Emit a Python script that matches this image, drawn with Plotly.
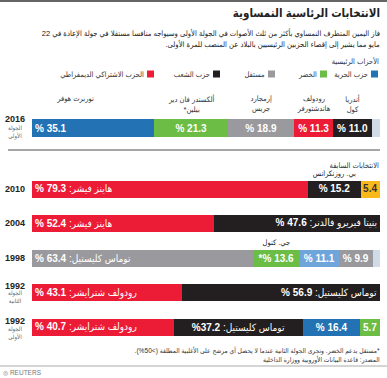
import json
import plotly.graph_objects as go

W, H = 387, 378

# ---------------- data ----------------
rows_2016 = ["2016"]
vals_2016 = [35.1, 21.3, 18.9, 11.3, 11.0, 2.4]
cols_2016 = ["#2272b4", "#6cbd45", "#9a9a9e", "#ec1c36", "#231f20", "#cfdbe6"]
labs_2016 = ["35.1 %", "21.3 %", "18.9 %", "11.3 %", "11.0 %", ""]
algn_2016 = ["start", "mid", "mid", "mid", "mid", "mid"]
names_2016 = ["نوربرت هوفر", "ألكسندر فان دير<br>بيلين*", "إرمجارد<br>جريس",
              "رودولف<br>هاندشتورفر", "أندريا<br>كول", ""]

rows_prev = ["2010", "2004", "1998", "1992b", "1992a"]
year_text = {"2016": "2016", "2010": "2010", "2004": "2004", "1998": "1998",
             "1992b": "1992", "1992a": "1992"}
round_text = {"2016": "الجولة<br>الأولى", "1992b": "الجولة<br>الثانية", "1992a": "الجولة<br>الأولى"}

vals_prev = {
    "2010": [79.3, 15.2, 5.4],
    "2004": [52.4, 47.6],
    "1998": [63.4, 13.6, 11.1, 9.9, 2.0],
    "1992b": [43.1, 56.9],
    "1992a": [40.7, 37.2, 16.4, 5.7],
}
cols_prev = {
    "2010": ["#ec1c36", "#231f20", "#f9b91c"],
    "2004": ["#ec1c36", "#231f20"],
    "1998": ["#9a9a9e", "#6cbd45", "#6ea6dc", "#9a9a9e", "#cfdbe6"],
    "1992b": ["#ec1c36", "#231f20"],
    "1992a": ["#ec1c36", "#231f20", "#2272b4", "#6cbd45"],
}
labs_prev = {
    "2010": ["هاينز فيشر: <b>79.3 %</b>", "15.2 %", "5.4"],
    "2004": ["هاينز فيشر: <b>52.4 %</b>", "بنيتا فيريرو فالدنر: <b>47.6 %</b>"],
    "1998": ["توماس كليستيل: <b>63.4 %</b>", "13.6 %*", "11.1 %", "9.9 %", ""],
    "1992b": ["رودولف شترايشر: <b>43.1 %</b>", "توماس كليستيل: <b>56.9 %</b>"],
    "1992a": ["رودولف شترايشر: <b>40.7 %</b>", "توماس كليستيل: <b>37.2%</b>", "16.4 %", "5.7"],
}
algn_prev = {
    "2010": ["start", "mid", "mid"],
    "2004": ["start", "end"],
    "1998": ["start", "mid", "mid", "mid", "mid"],
    "1992b": ["start", "end"],
    "1992a": ["start", "mid", "mid", "mid"],
}
tcol_prev = {"2010": ["white", "white", "#333"]}
above_names = {"2010": (1, "بي. روزنكرانس"), "1998": (1, "جي. كنول")}

legend_names = ["حزب الحرية", "الخضر", "مستقل", "حزب الشعب", "الحزب الاشتراكي الديمقراطي"]
legend_cols = ["#2272b4", "#6cbd45", "#9a9a9e", "#231f20", "#ec1c36"]

title = "الانتخابات الرئاسية النمساوية"
subtitle1 = "فاز اليمين المتطرف النمساوي بأكثر من ثلث الأصوات في الجولة الأولى وسيواجه منافسا مستقلا في جولة الإعادة في 22"
subtitle2 = "مايو مما يشير إلى إقصاء الحزبين الرئيسيين بالبلاد عن المنصب للمرة الأولى."
legend_title = "الأحزاب الرئيسية"
prev_title = "الانتخابات السابقة"
foot1 = "*مستقل بدعم الخضر. وتجرى الجولة الثانية عندما لا يحصل أي مرشح على الأغلبية المطلقة (>50%)."
foot2 = "المصدر: قاعدة البيانات الأوروبية ووزارة الداخلية"

# ---------------- styling helpers ----------------
FONT = "Arial, 'Liberation Sans', 'DejaVu Sans Condensed', 'DejaVu Sans', sans-serif"
year_shift = {"2016": (9, 5), "1992b": (7, 4.5), "1992a": (6, 3.5)}
PLOT_L, PLOT_R = 32, 380          # pixel extent of the bar axes


def py(p):
    return 1 - p / H


def px(p):
    return p / W


def xpix(v):
    return PLOT_L + (PLOT_R - PLOT_L) * v / 100.0


fig = go.Figure()
annotations = []
targets = []      # horizontal alignment fix-ups (anchor mode, pixel) per annotation
shapes = []


def add_ann(target, **kw):
    annotations.append(kw)
    targets.append(target)


# 2016 bars
for v, c in zip(vals_2016, cols_2016):
    fig.add_trace(go.Bar(x=[v], y=rows_2016, orientation="h", marker_color=c,
                         marker_line_width=0, width=1, xaxis="x", yaxis="y",
                         showlegend=False, hoverinfo="skip"))


def seg_labels(yi, vals, labs, algn, tcols, xref, yref):
    start = 0.0
    for i, v in enumerate(vals):
        lab = labs[i]
        if lab:
            a = algn[i]
            if a == "start":
                x, xa, xs, mode = start, "left", 3, "left"
            elif a == "end":
                x, xa, xs, mode = start + v, "right", -3, "right"
            else:
                x, xa, xs, mode = start + v / 2, "center", 0, "center"
            txt = lab if "<b>" in lab else "<b>" + lab + "</b>"
            add_ann([mode, xpix(x) + xs], x=x, y=yi, xref=xref, yref=yref, text=txt,
                    showarrow=False, xanchor=xa, xshift=xs,
                    font=dict(family=FONT, size=10, color=tcols[i]))
        start += v


seg_labels(0, vals_2016, labs_2016, algn_2016, ["white"] * 6, "x", "y")

# names above 2016 segments
start = 0.0
for i, v in enumerate(vals_2016):
    if names_2016[i]:
        xs = -18 if i == 0 else 0
        add_ann(["center", xpix(start + v / 2) + xs], x=start + v / 2, y=py(92), xref="x",
                yref="paper", text=names_2016[i], showarrow=False,
                xanchor="center", yanchor="top", xshift=xs,
                font=dict(family=FONT, size=7.5, color="#333"))
    start += v

# previous elections
for yi, row in enumerate(rows_prev):
    vals = vals_prev[row]
    for v, c in zip(vals, cols_prev[row]):
        fig.add_trace(go.Bar(x=[v], y=[row], orientation="h", marker_color=c,
                             marker_line_width=0, width=0.5, xaxis="x2", yaxis="y2",
                             showlegend=False, hoverinfo="skip"))
    seg_labels(yi, vals, labs_prev[row], algn_prev[row],
               tcol_prev.get(row, ["white"] * len(vals)), "x2", "y2")
    if row in above_names:
        k, nm = above_names[row]
        x = sum(vals[:k]) + vals[k] / 2
        add_ann(["center", xpix(x)], x=x, y=yi, xref="x2", yref="y2", text=nm,
                showarrow=False, xanchor="center", yanchor="bottom",
                yshift=9, font=dict(family=FONT, size=7.5, color="#222"))

# year labels
for row, yi, yref in [("2016", 0, "y")] + [(r, i, "y2") for i, r in enumerate(rows_prev)]:
    yr = year_text[row]
    if row in round_text:
        ys, rs = year_shift[row]
        add_ann(["center", 15], x=px(15), y=yi, xref="paper", yref=yref, text="<b>" + yr + "</b>",
                showarrow=False, xanchor="center", yshift=ys,
                font=dict(family=FONT, size=9, color="#222"))
        add_ann(["center", 15], x=px(15), y=yi, xref="paper", yref=yref, text=round_text[row],
                showarrow=False, xanchor="center", yanchor="top", yshift=rs,
                font=dict(family=FONT, size=6, color="#666"))
    else:
        add_ann(["center", 15], x=px(15), y=yi, xref="paper", yref=yref, text="<b>" + yr + "</b>",
                showarrow=False, xanchor="center",
                font=dict(family=FONT, size=9, color="#222"))


def right_text(txt, ypx, size, color="#333", bold=False, xr=380):
    add_ann(["right", xr], x=px(xr), y=py(ypx), xref="paper", yref="paper",
            text=("<b>" + txt + "</b>") if bold else txt,
            showarrow=False, xanchor="right", yanchor="middle",
            font=dict(family=FONT, size=size, color=color))


right_text(title, 14, 11.5, "#222", bold=True)
right_text(subtitle1, 33, 7.6, "#222")
right_text(subtitle2, 43.5, 7.6, "#222")
right_text(legend_title, 61, 7.5, "#333", xr=379)
right_text(prev_title, 165, 7.5, "#333", xr=379)
right_text(foot1, 350, 6.6, "#333")
right_text(foot2, 359.5, 6.6, "#333")

add_ann(["left", 3], x=px(3), y=py(372), xref="paper", yref="paper", text="◎ REUTERS",
        showarrow=False, xanchor="left", yanchor="middle",
        font=dict(family=FONT, size=6.5, color="#777"))

# legend (squares right of text, RTL)
sq_right = [378, 327, 275, 220, 154]
for nm, c, r in zip(legend_names, legend_cols, sq_right):
    shapes.append(dict(type="rect", xref="paper", yref="paper", x0=px(r - 7), x1=px(r),
                       y0=py(77.5), y1=py(70.5), fillcolor=c, line_width=0))
    add_ann(["right", r - 10], x=px(r - 10), y=py(74), xref="paper", yref="paper", text=nm,
            showarrow=False, xanchor="right", yanchor="middle",
            font=dict(family=FONT, size=7.5, color="#333"))

# rules
shapes += [
    dict(type="line", xref="paper", yref="paper", x0=0, x1=1, y0=py(1), y1=py(1),
         line=dict(color="#666", width=2)),
    dict(type="line", xref="paper", yref="paper", x0=px(8), x1=px(380), y0=py(150), y1=py(150),
         line=dict(color="#888", width=1.5)),
    dict(type="line", xref="paper", yref="paper", x0=0, x1=1, y0=py(366), y1=py(366),
         line=dict(color="#aaa", width=1)),
]

xdom = [px(PLOT_L), px(PLOT_R)]
fig.update_layout(
    width=W, height=H, margin=dict(l=0, r=0, t=0, b=0),
    paper_bgcolor="white", plot_bgcolor="white",
    barmode="stack", bargap=0,
    xaxis=dict(domain=xdom, range=[0, 100], visible=False, fixedrange=True),
    yaxis=dict(domain=[py(137), py(119)], range=[-0.5, 0.5], visible=False,
               type="category", fixedrange=True),
    xaxis2=dict(domain=xdom, range=[0, 100], visible=False, fixedrange=True, anchor="y2"),
    yaxis2=dict(domain=[py(344.25), py(171.75)], range=[4.5, -0.5], visible=False,
                type="category", categoryorder="array", categoryarray=rows_prev,
                fixedrange=True, anchor="x2"),
    annotations=annotations, shapes=shapes,
    font=dict(family=FONT),
)

# Remove the page margin, give Arabic texts a right-to-left base direction, then snap
# each text to its intended left / centre / right edge using its real rendered width.
fix_js = """
document.documentElement.style.margin = '0';
document.body.style.margin = '0';
document.body.style.overflow = 'hidden';
var T = %s;
var gd = document.getElementById('{plot_id}');
var g0 = gd.getBoundingClientRect();
gd.querySelectorAll('g.annotation').forEach(function(g){
  var i = +g.getAttribute('data-index');
  var t = g.querySelector('text.annotation-text');
  if (!t) return;
  if (/[\\u0600-\\u06FF%%]/.test(t.textContent)) {
    t.setAttribute('direction', 'rtl');
    t.style.direction = 'rtl';
    t.style.unicodeBidi = 'embed';
  }
  var spec = T[i];
  if (!spec) return;
  var r = t.getBoundingClientRect();
  var cur = spec[0] === 'left' ? r.left : (spec[0] === 'right' ? r.right : (r.left + r.right) / 2);
  var dx = spec[1] - (cur - g0.left);
  var tr = t.getAttribute('transform') || '';
  t.setAttribute('transform', tr + ' translate(' + dx + ',0)');
});
""" % json.dumps(targets)

fig.write_html("out.html", config={"displayModeBar": False}, post_script=fix_js)
